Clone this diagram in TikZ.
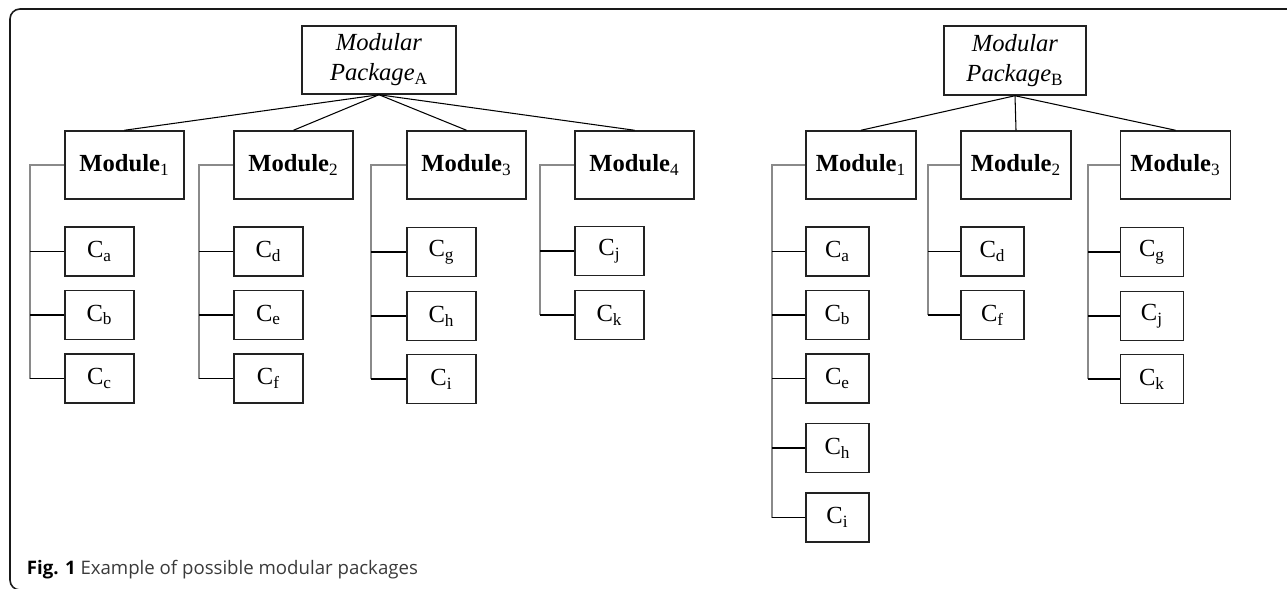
\documentclass[tikz,border=0pt]{standalone}
\usepackage{fontspec}
\setmainfont{Liberation Serif}
\newfontfamily\capfont{Open Sans}
\usetikzlibrary{calc}

\definecolor{boxc}{HTML}{222222}
\definecolor{trunkc}{HTML}{8A8A8A}
\definecolor{capc}{HTML}{3A3A3A}

\tikzset{
  pkg/.style    = {draw=boxc, line width=0.85pt, inner sep=0pt, align=center,
                   minimum width=3.08cm, minimum height=1.36cm,
                   font=\fontsize{14}{17}\selectfont},
  modA/.style   = {draw=boxc, line width=0.85pt, inner sep=0pt,
                   minimum width=2.38cm, minimum height=1.36cm,
                   font=\fontsize{14}{16}\selectfont},
  modB/.style   = {modA, minimum width=2.2cm},
  compA/.style  = {draw=boxc, line width=0.85pt, inner sep=0pt,
                   minimum width=1.38cm, minimum height=0.98cm,
                   font=\fontsize{14}{16}\selectfont},
  compB/.style  = {compA, minimum width=1.26cm},
  trunk/.style  = {draw=trunkc, line width=0.6pt},
  branch/.style = {draw=black, line width=0.6pt},
  frame/.style  = {draw=black!90, line width=0.9pt, rounded corners=0.2cm}
}

\newcommand{\modname}[1]{\textbf{Module}\textsubscript{#1}}
\newcommand{\cname}[1]{C\textsubscript{#1}}

\begin{document}
\begin{tikzpicture}[x=0.02cm, y=-0.02cm]

  \useasboundingbox (0,0) rectangle (1287,588);
  \begin{scope}
    \clip (0,0) rectangle (1287,588);
    \draw[frame] (10,9) rectangle (1320,590);
  \end{scope}

  % package A
  \node[pkg] (pkgA) at (379,60) {\textit{Modular}\\\textit{Package}\textsubscript{A}};

  \node[modA] (modA1) at (124.5,165) {\modname{1}};
  \node[modA] (modA2) at (293.5,165) {\modname{2}};
  \node[modA] (modA3) at (466.5,165) {\modname{3}};
  \node[modA] (modA4) at (634.5,165) {\modname{4}};

  \node[compA] (cAa) at (99.5,251.5)  {\cname{a}};
  \node[compA] (cAb) at (99.5,315)    {\cname{b}};
  \node[compA] (cAc) at (99.5,378.5)  {\cname{c}};
  \node[compA] (cAd) at (268.5,251.5) {\cname{d}};
  \node[compA] (cAe) at (268.5,315)   {\cname{e}};
  \node[compA] (cAf) at (268.5,378.5) {\cname{f}};
  \node[compA] (cAg) at (441.5,252)   {\cname{g}};
  \node[compA] (cAh) at (441.5,316)   {\cname{h}};
  \node[compA] (cAi) at (441.5,379)   {\cname{i}};
  \node[compA] (cAj) at (609.5,251)   {\cname{j}};
  \node[compA] (cAk) at (609.5,315)   {\cname{k}};

  \coordinate (trA1) at (30,378.5);
  \coordinate (trA2) at (199,378.5);
  \coordinate (trA3) at (371,379);
  \coordinate (trA4) at (540,315);

  \draw[branch] (pkgA.south) -- (modA1.north);
  \draw[branch] (pkgA.south) -- (modA2.north);
  \draw[branch] (pkgA.south) -- (modA3.north);
  \draw[branch] (pkgA.south) -- (modA4.north);

  \draw[trunk] (modA1.west) -| (trA1);
  \draw[trunk] (modA2.west) -| (trA2);
  \draw[trunk] (modA3.west) -| (trA3);
  \draw[trunk] (modA4.west) -| (trA4);

  \draw[branch] (cAa.west) -- (cAa.west -| trA1);
  \draw[branch] (cAb.west) -- (cAb.west -| trA1);
  \draw[branch] (cAc.west) -- (cAc.west -| trA1);
  \draw[branch] (cAd.west) -- (cAd.west -| trA2);
  \draw[branch] (cAe.west) -- (cAe.west -| trA2);
  \draw[branch] (cAf.west) -- (cAf.west -| trA2);
  \draw[branch] (cAg.west) -- (cAg.west -| trA3);
  \draw[branch] (cAh.west) -- (cAh.west -| trA3);
  \draw[branch] (cAi.west) -- (cAi.west -| trA3);
  \draw[branch] (cAj.west) -- (cAj.west -| trA4);
  \draw[branch] (cAk.west) -- (cAk.west -| trA4);

  % package B
  \node[pkg, minimum width=2.84cm, minimum height=1.38cm] (pkgB) at (1015,60.5)
    {\textit{Modular}\\\textit{Package}\textsubscript{B}};

  \node[modB] (modB1) at (861,165)    {\modname{1}};
  \node[modB] (modB2) at (1016,165)   {\modname{2}};
  \node[modB] (modB3) at (1175.5,165) {\modname{3}};

  \node[compB] (cBa) at (837.5,251.5) {\cname{a}};
  \node[compB] (cBb) at (837.5,315)   {\cname{b}};
  \node[compB] (cBe) at (837.5,378.5) {\cname{e}};
  \node[compB] (cBh) at (837.5,448)   {\cname{h}};
  \node[compB] (cBi) at (837.5,517.5) {\cname{i}};
  \node[compB] (cBd) at (992.5,251.5) {\cname{d}};
  \node[compB] (cBf) at (992.5,315)   {\cname{f}};
  \node[compB] (cBg) at (1152,252)    {\cname{g}};
  \node[compB] (cBj) at (1152,316)    {\cname{j}};
  \node[compB] (cBk) at (1152,379)    {\cname{k}};

  \coordinate (trB1) at (772,517.5);
  \coordinate (trB2) at (928,315);
  \coordinate (trB3) at (1088,379);

  \draw[branch] (pkgB.south) -- (modB1.north);
  \draw[branch] (pkgB.south) -- (modB2.north);
  \draw[branch] (pkgB.south) -- (modB3.north);

  \draw[trunk] (modB1.west) -| (trB1);
  \draw[trunk] (modB2.west) -| (trB2);
  \draw[trunk] (modB3.west) -| (trB3);

  \draw[branch] (cBa.west) -- (cBa.west -| trB1);
  \draw[branch] (cBb.west) -- (cBb.west -| trB1);
  \draw[branch] (cBe.west) -- (cBe.west -| trB1);
  \draw[branch] (cBh.west) -- (cBh.west -| trB1);
  \draw[branch] (cBi.west) -- (cBi.west -| trB1);
  \draw[branch] (cBd.west) -- (cBd.west -| trB2);
  \draw[branch] (cBf.west) -- (cBf.west -| trB2);
  \draw[branch] (cBg.west) -- (cBg.west -| trB3);
  \draw[branch] (cBj.west) -- (cBj.west -| trB3);
  \draw[branch] (cBk.west) -- (cBk.west -| trB3);

  % caption
  \node[anchor=base west, inner sep=0pt, text=capc,
        font=\capfont\fontsize{10.6}{13}\selectfont] (caption) at (26.5,574.3)
    {\textcolor{black}{\textbf{Fig. 1}} Example of possible modular packages};

\end{tikzpicture}
\end{document}
